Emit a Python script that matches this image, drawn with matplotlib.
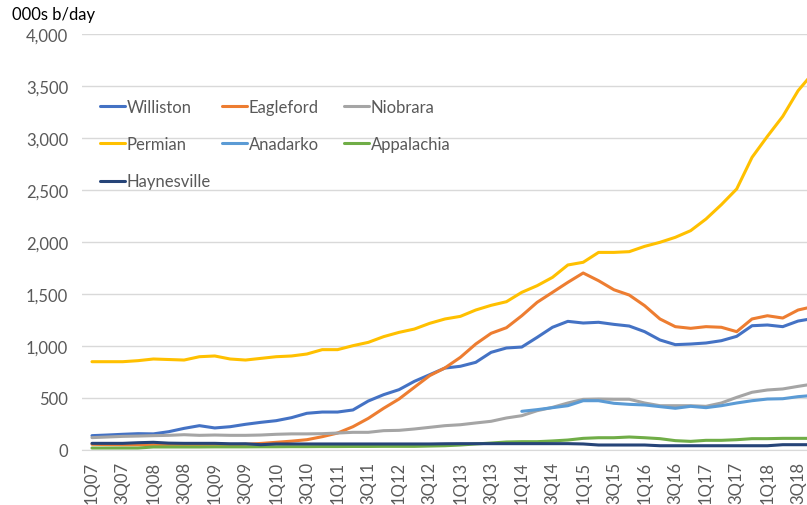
import numpy as np
import matplotlib
matplotlib.use("Agg")
import matplotlib.pyplot as plt
from matplotlib.legend import Legend

plt.rcParams['font.family'] = ['Lato', 'DejaVu Sans']

# quarters 1Q07 .. 4Q18
quarters = [f"{q}Q{y:02d}" for y in range(7, 19) for q in range(1, 5)]

williston = [138, 144, 151, 157, 155, 176, 208, 234, 212, 224, 247, 266, 282, 311, 353, 365,
             365, 385, 471, 532, 580, 660, 724, 788, 805, 843, 939, 981, 990, 1083, 1180, 1237,
             1221, 1228, 1208, 1192, 1138, 1058, 1013, 1019, 1029, 1051, 1093, 1195, 1202, 1186, 1240, 1265]
eagleford = [55, 52, 50, 50, 50, 52, 50, 50, 50, 50, 55, 63, 74, 85, 99, 128,
             163, 224, 304, 401, 490, 603, 715, 790, 891, 1019, 1122, 1176, 1291, 1420, 1516, 1612,
             1702, 1628, 1541, 1490, 1388, 1260, 1186, 1170, 1186, 1180, 1138, 1260, 1291, 1269, 1346, 1380]
niobrara = [119, 125, 131, 134, 138, 141, 147, 141, 144, 141, 141, 144, 151, 155, 155, 157,
            163, 170, 170, 186, 189, 202, 218, 234, 243, 260, 276, 308, 330, 378, 410, 452,
            487, 490, 488, 488, 452, 426, 426, 426, 420, 452, 506, 555, 577, 587, 612, 635]
permian = [849, 849, 849, 859, 875, 870, 865, 897, 904, 875, 865, 881, 897, 904, 923, 965,
           965, 1003, 1035, 1090, 1131, 1163, 1218, 1260, 1285, 1346, 1391, 1426, 1516, 1580, 1660, 1779,
           1805, 1900, 1900, 1907, 1958, 1997, 2045, 2109, 2221, 2359, 2510, 2814, 3016, 3208, 3455, 3630]
anadarko = [np.nan] * 28 + [372, 388, 407, 426,
            474, 474, 449, 439, 433, 417, 401, 420, 407, 426, 452, 474, 490, 493, 513, 525]
appalachia = [19, 19, 19, 19, 29, 29, 29, 29, 30, 30, 30, 31, 31, 32, 32, 33,
              33, 34, 34, 35, 35, 35, 38, 41, 48, 58, 67, 77, 80, 80, 87, 96,
              112, 118, 118, 125, 118, 109, 90, 83, 93, 93, 99, 109, 109, 112, 112, 112]
haynesville = [64, 64, 64, 70, 74, 66, 64, 64, 64, 60, 60, 51, 58, 58, 58, 58,
               58, 58, 58, 58, 58, 58, 58, 60, 61, 61, 61, 61, 61, 61, 61, 61,
               58, 48, 48, 48, 48, 41, 41, 41, 41, 41, 41, 41, 41, 51, 51, 51]

series = [
    ("Williston", williston, "#4472C4"),
    ("Eagleford", eagleford, "#ED7D31"),
    ("Niobrara", niobrara, "#A5A5A5"),
    ("Permian", permian, "#FFC000"),
    ("Anadarko", anadarko, "#5B9BD5"),
    ("Appalachia", appalachia, "#70AD47"),
    ("Haynesville", haynesville, "#264478"),
]

W, H = 807, 506
fig = plt.figure(figsize=(W / 100, H / 100), dpi=100)
ax = fig.add_axes([82 / W, 1 - 451 / H, 1 - 82 / W, (451 - 35) / H])

x = np.arange(len(quarters))
handles = {}
for name, vals, col in series:
    ln, = ax.plot(x, vals, color=col, lw=2.2, solid_capstyle='round', label=name)
    handles[name] = ln

ax.set_ylim(0, 4000)
ax.set_xlim(-0.65, 46.58)
ax.set_yticks(range(0, 4001, 500))
ax.yaxis.set_major_formatter(matplotlib.ticker.FuncFormatter(lambda v, p: f"{int(v):,}"))
ax.set_xticks(x[::2])
ax.set_xticklabels(quarters[::2], rotation=90)
ax.tick_params(length=0, labelsize=12, labelcolor="#595959")
ax.tick_params(axis='x', pad=8)
ax.tick_params(axis='y', pad=10)
ax.grid(axis='y', color="#d9d9d9", lw=1)
ax.set_axisbelow(True)
for s in ['top', 'right', 'left']:
    ax.spines[s].set_visible(False)
ax.spines['bottom'].set_color("#d9d9d9")

fig.text(12 / W, 1 - 15 / H, "000s b/day", fontsize=12, color="black", va='center')

# legend, three columns placed like the original
cols = [(100, ["Williston", "Permian", "Haynesville"]),
        (222, ["Eagleford", "Anadarko"]),
        (344, ["Niobrara", "Appalachia"])]
for xpix, names in cols:
    leg = Legend(ax, [handles[n] for n in names], names, loc='upper left',
                 bbox_to_anchor=(xpix / W, 1 - 100 / H), bbox_transform=fig.transFigure,
                 frameon=False, fontsize=12, labelcolor="#595959", handlelength=1.5,
                 handletextpad=0.1, labelspacing=1.27, borderpad=0, borderaxespad=0)
    ax.add_artist(leg)

fig.savefig("out.png", dpi=100)
